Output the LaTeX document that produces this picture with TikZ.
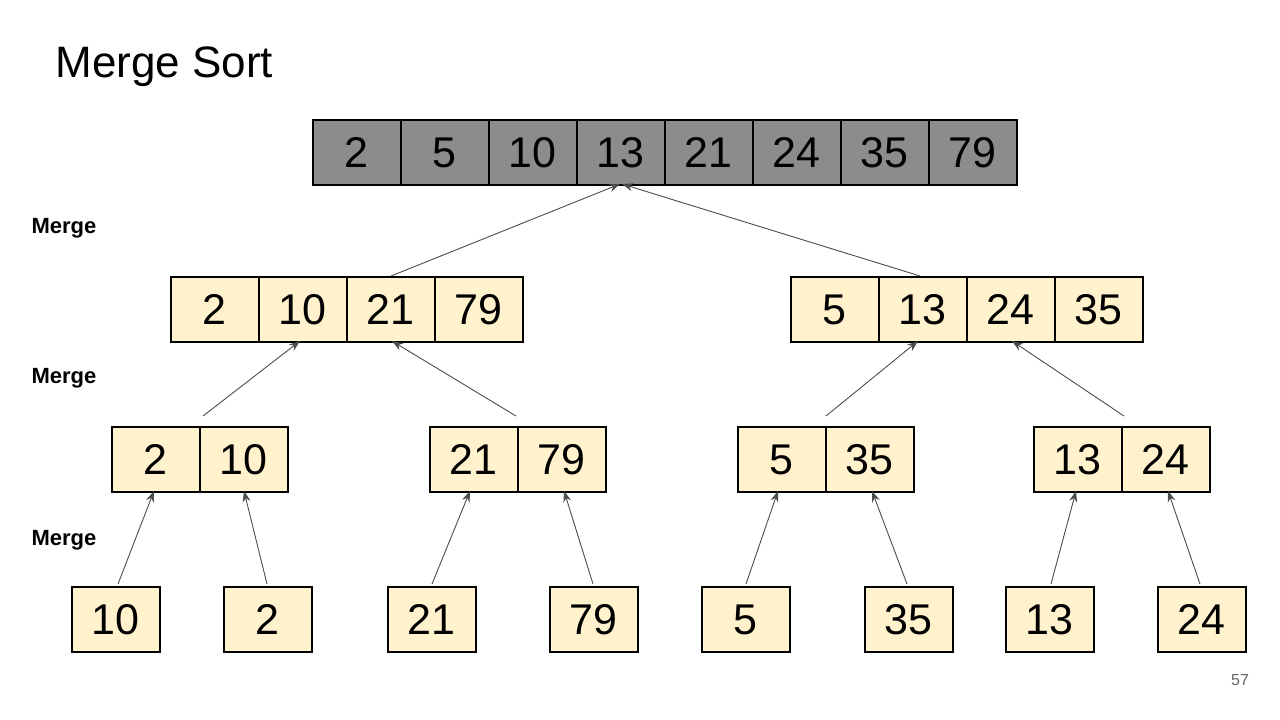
\documentclass[tikz,border=0pt]{standalone}
\usepackage{fontspec}
\setmainfont{Liberation Sans}
\usetikzlibrary{arrows.meta}
\begin{document}
\begin{tikzpicture}[x=1pt,y=-1pt,
  cell/.style={draw=black,line width=1.8pt,minimum width=88pt,minimum height=65pt,inner sep=0pt,text height=31pt,text depth=0pt,anchor=north west,font=\fontsize{43}{48}\selectfont},
  top/.style={cell,fill=black!45},
  cr/.style={cell,fill={rgb,255:red,255;green,242;blue,204}},
  arr/.style={-{Stealth[length=11pt,width=8pt]},draw=black!70,line width=0.9pt},
  lab/.style={font=\bfseries\fontsize{22}{24}\selectfont,anchor=west}]
\useasboundingbox (0,0) rectangle (1280,720);
\node[anchor=west,font=\fontsize{44}{50}\selectfont] (title) at (52,67) {Merge Sort};
\node[lab] (m1) at (28,228) {Merge};
\node[lab] (m2) at (28,378) {Merge};
\node[lab] (m3) at (28,540) {Merge};
\node[font=\fontsize{16}{18}\selectfont,text=black!60] (pg) at (1240,680) {57};
% top row
\foreach \v [count=\i] in {2,5,10,13,21,24,35,79}
  \node[top] (t\i) at ({312+88*(\i-1)},119) {\v};
% row 2
\foreach \v [count=\i] in {2,10,21,79}
  \node[cr] (l\i) at ({170+88*(\i-1)},276) {\v};
\foreach \v [count=\i] in {5,13,24,35}
  \node[cr] (r\i) at ({790+88*(\i-1)},276) {\v};
% row 3
\node[cr] (a1) at (111,426) {2}; \node[cr] (a2) at (199,426) {10};
\node[cr] (b1) at (429,426) {21}; \node[cr] (b2) at (517,426) {79};
\node[cr] (c1) at (737,426) {5}; \node[cr] (c2) at (825,426) {35};
\node[cr] (d1) at (1033,426) {13}; \node[cr] (d2) at (1121,426) {24};
% row 4
\foreach \v/\x [count=\i] in {10/71,2/223,21/387,79/549,5/701,35/864,13/1005,24/1157}
  \node[cr] (s\i) at (\x,586) {\v};
% arrows
\coordinate (e1) at (620,184); \coordinate (e2) at (622,184);
\draw[arr] (391,276) -- (e1);
\draw[arr] (920,276) -- (e2);
\coordinate (f1) at (300,341); \coordinate (f2) at (392,341);
\coordinate (f3) at (918,341); \coordinate (f4) at (1012,341);
\draw[arr] (203,416) -- (f1);
\draw[arr] (516,416) -- (f2);
\draw[arr] (826,416) -- (f3);
\draw[arr] (1124,416) -- (f4);
\foreach \sx/\ex/\n in {118/154/1,267/244/2,432/470/3,593/564/4,746/778/5,907/872/6,1051/1076/7,1200/1168/8}{
  \coordinate (g\n) at (\ex,491);
  \draw[arr] (\sx,584) -- (g\n);
}
\end{tikzpicture}
\end{document}
